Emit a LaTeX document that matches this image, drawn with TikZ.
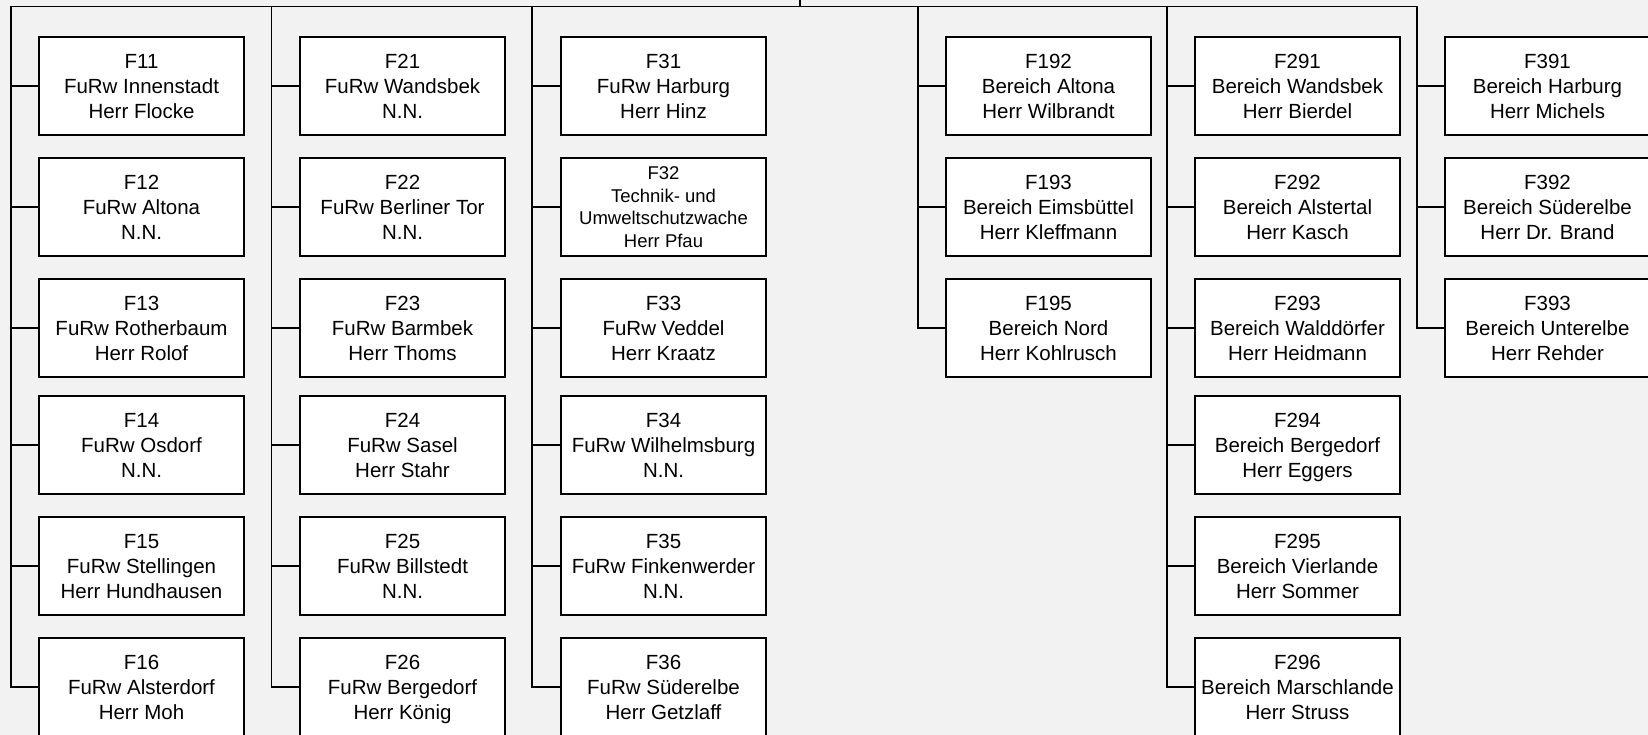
\documentclass[tikz,border=0pt]{standalone}
\usepackage{fontspec}
\setmainfont{Liberation Sans}
\definecolor{bg}{HTML}{F2F2F2}
\tikzset{
  orgbox/.style={draw=black, line width=1.6pt, fill=white, minimum width=205pt, minimum height=98pt,
    inner sep=0pt, align=center, font=\fontsize{20.5}{25}\selectfont},
  smallbox/.style={orgbox, font=\fontsize{18.5}{22.5}\selectfont},
  conn/.style={draw=black, line width=1.3pt}
}
\newcommand{\ostrut}{\rule[-5pt]{0pt}{25pt}}
\newcommand{\sstrut}{\rule[-4.75pt]{0pt}{22.5pt}}
\newcommand{\ob}[3]{\ostrut#1\\#2\\#3\ostrut}
\begin{document}
\begin{tikzpicture}[x=1pt,y=-1pt]
\fill[bg] (0,0) rectangle (1648,735);
\useasboundingbox (0,0) rectangle (1648,735);
% column tops
\coordinate (c1) at (11,6.5);
\coordinate (c2) at (271.5,6.5);
\coordinate (c3) at (532,6.5);
\coordinate (c4) at (918,6.5);
\coordinate (c5) at (1167,6.5);
\coordinate (c6) at (1417,6.5);
\coordinate (ctop) at (800,0);
% column 1
\node[orgbox] (F11) at (141.5,86) {\ob{F11}{FuRw Innenstadt}{Herr Flocke}};
\node[orgbox] (F12) at (141.5,207) {\ob{F12}{FuRw Altona}{N.N.}};
\node[orgbox] (F13) at (141.5,328) {\ob{F13}{FuRw Rotherbaum}{Herr Rolof}};
\node[orgbox] (F14) at (141.5,445) {\ob{F14}{FuRw Osdorf}{N.N.}};
\node[orgbox] (F15) at (141.5,566) {\ob{F15}{FuRw Stellingen}{Herr Hundhausen}};
\node[orgbox] (F16) at (141.5,687) {\ob{F16}{FuRw Alsterdorf}{Herr Moh}};
% column 2
\node[orgbox] (F21) at (402.5,86) {\ob{F21}{FuRw Wandsbek}{N.N.}};
\node[orgbox] (F22) at (402.5,207) {\ob{F22}{FuRw Berliner Tor}{N.N.}};
\node[orgbox] (F23) at (402.5,328) {\ob{F23}{FuRw Barmbek}{Herr Thoms}};
\node[orgbox] (F24) at (402.5,445) {\ob{F24}{FuRw Sasel}{Herr Stahr}};
\node[orgbox] (F25) at (402.5,566) {\ob{F25}{FuRw Billstedt}{N.N.}};
\node[orgbox] (F26) at (402.5,687) {\ob{F26}{FuRw Bergedorf}{Herr König}};
% column 3
\node[orgbox] (F31) at (663.5,86) {\ob{F31}{FuRw Harburg}{Herr Hinz}};
\node[smallbox] (F32) at (663.5,207) {\sstrut F32\\Technik- und\\Umweltschutzwache\\Herr Pfau\sstrut};
\node[orgbox] (F33) at (663.5,328) {\ob{F33}{FuRw Veddel}{Herr Kraatz}};
\node[orgbox] (F34) at (663.5,445) {\ob{F34}{FuRw Wilhelmsburg}{N.N.}};
\node[orgbox] (F35) at (663.5,566) {\ob{F35}{FuRw Finkenwerder}{N.N.}};
\node[orgbox] (F36) at (663.5,687) {\ob{F36}{FuRw Süderelbe}{Herr Getzlaff}};
% column 4
\node[orgbox] (F192) at (1048.5,86) {\ob{F192}{Bereich Altona}{Herr Wilbrandt}};
\node[orgbox] (F193) at (1048.5,207) {\ob{F193}{Bereich Eimsbüttel}{Herr Kleffmann}};
\node[orgbox] (F195) at (1048.5,328) {\ob{F195}{Bereich Nord}{Herr Kohlrusch}};
% column 5
\node[orgbox] (F291) at (1297.5,86) {\ob{F291}{Bereich Wandsbek}{Herr Bierdel}};
\node[orgbox] (F292) at (1297.5,207) {\ob{F292}{Bereich Alstertal}{Herr Kasch}};
\node[orgbox] (F293) at (1297.5,328) {\ob{F293}{Bereich Walddörfer}{Herr Heidmann}};
\node[orgbox] (F294) at (1297.5,445) {\ob{F294}{Bereich Bergedorf}{Herr Eggers}};
\node[orgbox] (F295) at (1297.5,566) {\ob{F295}{Bereich Vierlande}{Herr Sommer}};
\node[orgbox] (F296) at (1297.5,687) {\ob{F296}{Bereich Marschlande}{Herr Struss}};
% column 6
\node[orgbox] (F391) at (1547.5,86) {\ob{F391}{Bereich Harburg}{Herr Michels}};
\node[orgbox] (F392) at (1547.5,207) {\ob{F392}{Bereich Süderelbe}{Herr Dr. Brand}};
\node[orgbox] (F393) at (1547.5,328) {\ob{F393}{Bereich Unterelbe}{Herr Rehder}};
% connectors
\draw[conn] (ctop) -- (ctop|-c1);
\draw[conn] (c1) -- (c6);
\foreach \b in {F11,F12,F13,F14,F15,F16} \draw[conn] (c1) |- (\b.west);
\foreach \b in {F21,F22,F23,F24,F25,F26} \draw[conn] (c2) |- (\b.west);
\foreach \b in {F31,F32,F33,F34,F35,F36} \draw[conn] (c3) |- (\b.west);
\foreach \b in {F192,F193,F195} \draw[conn] (c4) |- (\b.west);
\foreach \b in {F291,F292,F293,F294,F295,F296} \draw[conn] (c5) |- (\b.west);
\foreach \b in {F391,F392,F393} \draw[conn] (c6) |- (\b.west);
\end{tikzpicture}
\end{document}
